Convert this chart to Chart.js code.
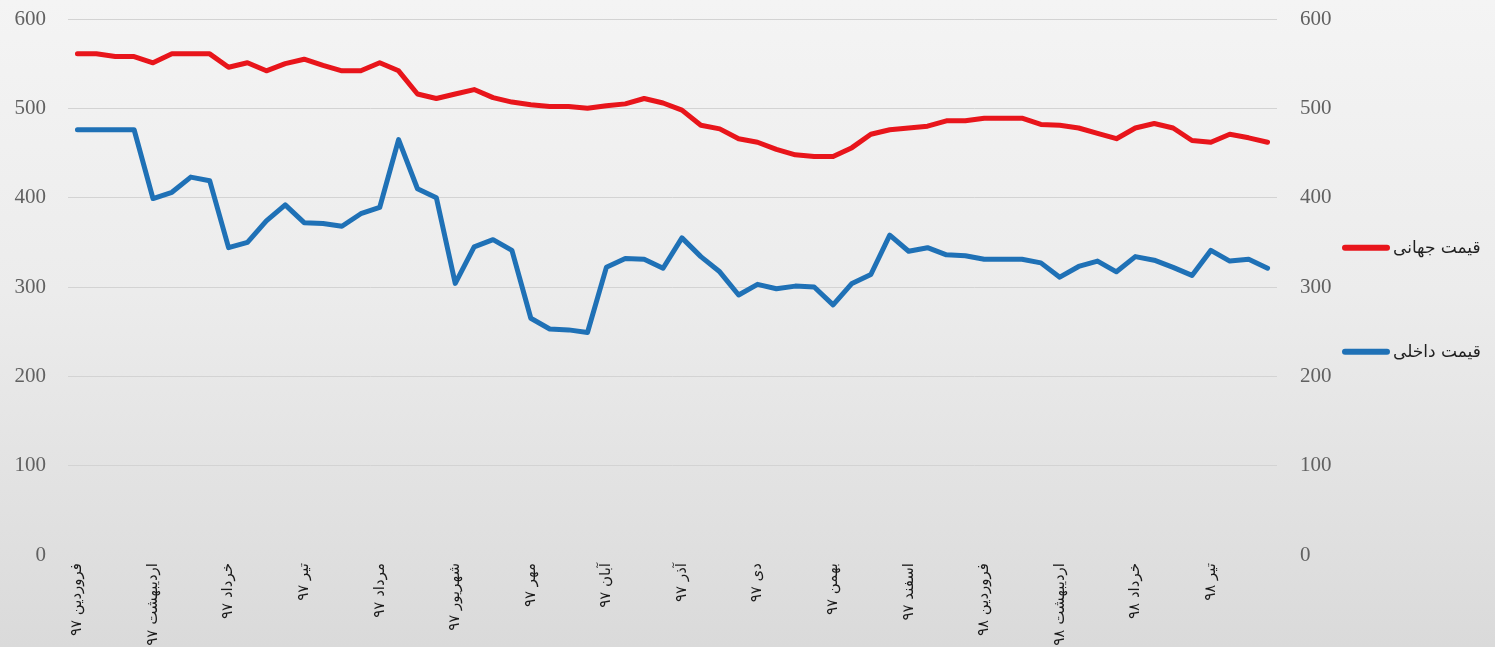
<!DOCTYPE html>
<html lang="fa">
<head>
<meta charset="utf-8">
<script src="https://cdn.jsdelivr.net/npm/chart.js@4/dist/chart.umd.min.js"></script>
<style>
  html, body { margin: 0; padding: 0; overflow: hidden; }
  body { width: 1495px; height: 647px; background: linear-gradient(to bottom, #f4f4f4 0%, #ececec 45%, #dadada 100%); }
  canvas { display: block; }
</style>
</head>
<body>
<canvas id="c" width="1495" height="647"></canvas>
<script>
// Month tick labels (one every 4 weekly points)
const monthLabels = ['فروردین ۹۷','اردیبهشت ۹۷','خرداد ۹۷','تیر ۹۷','مرداد ۹۷','شهریور ۹۷','مهر ۹۷','آبان ۹۷','آذر ۹۷','دی ۹۷','بهمن ۹۷','اسفند ۹۷','فروردین ۹۸','اردیبهشت ۹۸','خرداد ۹۸','تیر ۹۸'];
const pointsPerMonth = 4;

// Series names
const seriesNames = ['قیمت جهانی', 'قیمت داخلی'];

// World price (red)
const worldPrice = [561,561,558,558,551,561,561,561,546,551,542,550,555,548,542,542,
                    551,542,516,511,516,521,512,507,504,502,502,500,503,505,511,506,
                    498,481,477,466,462,454,448,446,446,456,471,476,478,480,486,486,
                    489,489,489,482,481,478,472,466,478,483,478,464,462,471,467,462];

// Domestic price (blue)
const domesticPrice = [476,476,476,476,399,406,423,419,344,350,374,392,372,371,368,382,
                       389,465,410,400,304,345,353,341,265,253,252,249,322,332,331,321,
                       355,334,317,291,303,298,301,300,280,304,314,358,340,344,336,335,
                       331,331,331,327,311,323,329,317,334,330,322,313,341,329,331,321];

// Y axis ticks
const yMin = 0, yMax = 600, yStep = 100;

// Build category labels: month name at the first week of each month
const categories = worldPrice.map((_, i) => (i % pointsPerMonth === 0 ? (monthLabels[i / pointsPerMonth] || '') : ''));

const legendPlugin = {
  id: 'sideLegend',
  afterDraw(chart) {
    const ctx = chart.ctx;
    const area = chart.chartArea;
    const right = chart.scales.y2.right;
    const x0 = right + 5;
    const lineLen = 48;
    let y = area.top + area.height * 0.427;
    ctx.save();
    chart.data.datasets.forEach(ds => {
      ctx.beginPath();
      ctx.strokeStyle = ds.borderColor;
      ctx.lineWidth = 6;
      ctx.lineCap = 'round';
      ctx.moveTo(x0 + 3, y);
      ctx.lineTo(x0 + lineLen - 3, y);
      ctx.stroke();
      ctx.fillStyle = '#1f1f1f';
      ctx.font = '17px "DejaVu Sans", sans-serif';
      ctx.textAlign = 'left';
      ctx.textBaseline = 'middle';
      ctx.fillText(ds.label, x0 + lineLen + 3, y + 1);
      y += 104;
    });
    ctx.restore();
  }
};

const fitY = (w) => (s) => { s.width = w; s.paddingTop = 0; s.paddingBottom = 0; };

new Chart(document.getElementById('c'), {
  type: 'line',
  data: {
    labels: categories,
    datasets: [
      { label: seriesNames[0], data: worldPrice, borderColor: '#e8151b', backgroundColor: '#e8151b',
        borderWidth: 5, pointRadius: 0, tension: 0, borderJoinStyle: 'round', borderCapStyle: 'round', yAxisID: 'y' },
      { label: seriesNames[1], data: domesticPrice, borderColor: '#1f71b6', backgroundColor: '#1f71b6',
        borderWidth: 5, pointRadius: 0, tension: 0, borderJoinStyle: 'round', borderCapStyle: 'round', yAxisID: 'y' }
    ]
  },
  plugins: [legendPlugin],
  options: {
    responsive: false,
    animation: false,
    devicePixelRatio: 1,
    layout: { padding: { top: 19, right: 158, bottom: 0, left: 0 } },
    plugins: { legend: { display: false }, tooltip: { enabled: false } },
    scales: {
      x: {
        type: 'category',
        offset: true,
        grid: { display: false, drawTicks: false },
        border: { display: false },
        ticks: {
          autoSkip: false, minRotation: 90, maxRotation: 90, padding: 8,
          color: '#1a1a1a', font: { family: '"DejaVu Sans", sans-serif', size: 15 }
        },
        afterFit: (s) => { s.height = 92; }
      },
      y: {
        position: 'left', min: yMin, max: yMax,
        grid: { drawTicks: false, lineWidth: 1, color: (c) => (c.tick && c.tick.value === 0 ? 'rgba(0,0,0,0)' : '#d3d3d3') },
        border: { display: false },
        ticks: { stepSize: yStep, padding: 22, color: '#616161', font: { family: '"Liberation Serif", serif', size: 21 } },
        afterFit: fitY(68)
      },
      y2: {
        position: 'right', min: yMin, max: yMax,
        grid: { display: false, drawTicks: false },
        border: { display: false },
        ticks: { stepSize: yStep, padding: 23, color: '#616161', font: { family: '"Liberation Serif", serif', size: 21 } },
        afterFit: fitY(60)
      }
    }
  }
});
</script>
</body>
</html>
